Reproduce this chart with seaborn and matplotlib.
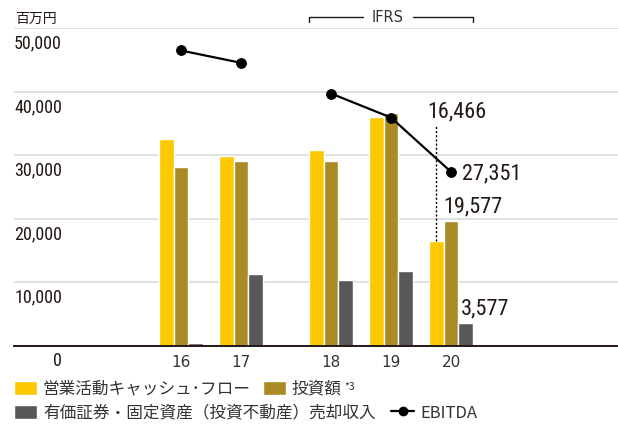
import numpy as np
import pandas as pd
import seaborn as sns
import matplotlib
matplotlib.use("Agg")
import matplotlib.pyplot as plt
import matplotlib.transforms as mtransforms
from matplotlib.patches import Patch
from matplotlib.lines import Line2D
from matplotlib import font_manager as fm

# ---------------- data ----------------
years = ["16", "17", "18", "19", "20"]
xpos = [0.0, 1.0, 2.5, 3.5, 4.5]
op_cf = [32550, 29920, 30820, 36010, 16466]      # 営業活動キャッシュ・フロー
invest = [28140, 29090, 29090, 36600, 19577]     # 投資額
sales = [470, 11290, 10350, 11760, 3577]         # 有価証券・固定資産売却収入
ebitda = [46460, 44520, 39690, 35900, 27351]     # EBITDA
ebitda_seg = [0, 0, 1, 1, 1]
yticks = [0, 10000, 20000, 30000, 40000, 50000]
ytick_labels = ["0", "10,000", "20,000", "30,000", "40,000", "50,000"]
series_names = ["営業活動キャッシュ･フロー", "投資額", "有価証券・固定資産（投資不動産）売却収入"]
colors = ["#FCC800", "#A98A25", "#595757"]

# ---------------- fonts ----------------
sns.set_theme(style="white")
JP = "Noto Sans CJK JP"
plt.rcParams["font.family"] = [JP, "DejaVu Sans"]


def find_condensed():
    prefs = ["roboto condensed", "liberation sans narrow", "open sans condensed",
             "dejavu sans condensed", "noto sans condensed"]
    cands = []
    for f in fm.fontManager.ttflist:
        key = (f.name + " " + f.fname).lower()
        is_cond = ("condensed" in key or "narrow" in key or
                   str(f.stretch) in ("condensed", "semi-condensed", "extra-condensed"))
        if not is_cond:
            continue
        if f.style != "normal":
            continue
        fn = f.fname.lower()
        if any(b in fn for b in ["bold", "light", "thin", "black", "medium", "italic", "oblique"]):
            continue
        rank = len(prefs)
        for i, p in enumerate(prefs):
            if p in key.replace("-", " ").replace("_", " ") or p.replace(" ", "") in key:
                rank = i
                break
        cands.append((rank, f.fname))
    if cands:
        cands.sort()
        return cands[0][1]
    return None


cond_path = find_condensed()


def numfont(size):
    if cond_path:
        return fm.FontProperties(fname=cond_path, size=size)
    return fm.FontProperties(family="Roboto", size=size * 0.88)


TXT = "#231815"

# ---------------- frame ----------------
df = pd.DataFrame({
    "x": xpos * 3,
    "v": op_cf + invest + sales,
    "series": [series_names[0]] * 5 + [series_names[1]] * 5 + [series_names[2]] * 5,
})
eb = pd.DataFrame({"x": xpos, "v": ebitda, "seg": ebitda_seg})

W, H = 618, 425
fig = plt.figure(figsize=(W / 100, H / 100), dpi=100)
ax = fig.add_axes([14 / W, (H - 345.7) / H, (W - 14) / W, (345.7 - 28) / H])

sns.barplot(data=df, x="x", y="v", hue="series", hue_order=series_names,
            palette=colors, native_scale=True, width=0.735, gap=0,
            dodge=True, saturation=1, legend=False, ax=ax, zorder=2)
sns.lineplot(data=eb, x="x", y="v", units="seg", estimator=None,
             color="black", marker="o", markersize=7, markeredgecolor="black",
             linewidth=1.6, legend=False, ax=ax, zorder=4)

ax.set_xlim(-2.78, 7.28)
ax.set_ylim(0, 50000)
ax.set_xlabel("")
ax.set_ylabel("")
ax.set_yticks(yticks)
ax.set_yticklabels([])
ax.yaxis.grid(True, color="#dcdcdc", linewidth=1.2)
ax.xaxis.grid(False)
ax.set_axisbelow(True)
ax.tick_params(axis="y", length=0)
ax.set_xticks(xpos)
ax.set_xticklabels(years, fontsize=11, color="#333333", family="DejaVu Sans")
ax.tick_params(axis="x", length=0, pad=7)
for s in ["top", "left", "right"]:
    ax.spines[s].set_visible(False)
ax.spines["bottom"].set_color("#231815")
ax.spines["bottom"].set_linewidth(1.4)
ax.spines["bottom"].set_zorder(5)

# y tick labels below gridlines
blend = mtransforms.blended_transform_factory(ax.transAxes, ax.transData)
for v, lab in zip(yticks, ytick_labels):
    ax.text((62 - 14) / (W - 14), v - 1050, lab, transform=blend, ha="right",
            va="top", fontproperties=numfont(13), color=TXT, clip_on=False)

# unit label
fig.text(15 / W, 1 - 18.5 / H, "百万円", fontsize=10, color=TXT, ha="left", va="center")

# IFRS bracket
bt = mtransforms.blended_transform_factory(ax.transData, fig.transFigure)
yb = 1 - 17.3 / H
ytk = 1 - 21.5 / H
x_l = 2.5 - 0.3675
x_r = 4.5 + 0.3675
gap_l = (363 - 181) / 60
gap_r = (413 - 181) / 60
ax.plot([x_l, x_l, gap_l], [ytk, yb, yb], color="#231815", lw=1, transform=bt, clip_on=False)
ax.plot([gap_r, x_r, x_r], [yb, yb, ytk], color="#231815", lw=1, transform=bt, clip_on=False)
ax.text((gap_l + gap_r) / 2, yb, "IFRS", transform=bt, ha="center", va="center",
        fontsize=10.5, color="#333333", family="DejaVu Sans")

# annotations for FY20
w1 = 0.245
ax.plot([4.5 - w1, 4.5 - w1], [op_cf[4], 34800], color="black", lw=1,
        linestyle=(0, (1.5, 1.5)), zorder=3)
ax.text(4.10, 35900, f"{op_cf[4]:,}", fontproperties=numfont(16), color=TXT, ha="left", va="baseline")
ax.text(4.68, 26150, f"{ebitda[4]:,}", fontproperties=numfont(16), color=TXT, ha="left", va="baseline")
ax.text(4.37, 20900, f"{invest[4]:,}", fontproperties=numfont(16), color=TXT, ha="left", va="baseline")
ax.text(4.67, 4850, f"{sales[4]:,}", fontproperties=numfont(16), color=TXT, ha="left", va="baseline")

# legend
fs = 12
common = dict(ncol=2, frameon=False, fontsize=fs, handlelength=1.38, handleheight=0.9,
              handletextpad=0.36, borderaxespad=0, borderpad=0, labelcolor="#333333",
              loc="center left")
h1 = [Patch(facecolor=colors[0]), Patch(facecolor=colors[1])]
l1 = [series_names[0], "投資額"]
leg1 = fig.legend(h1, l1, bbox_to_anchor=(14 / W, 1 - 389 / H), columnspacing=0.7, **common)
h2 = [Patch(facecolor=colors[2]),
      Line2D([0], [0], color="black", lw=1.6, marker="o", markersize=6)]
l2 = [series_names[2], "EBITDA"]
leg2 = fig.legend(h2, l2, bbox_to_anchor=(14 / W, 1 - 413 / H), columnspacing=0.95, **common)
fig.canvas.draw()
bb = leg1.get_texts()[1].get_window_extent()
fig.text(bb.x1 + 3, bb.y1 - 2, "*3", transform=None, fontsize=7.5, color="#333333",
         ha="left", va="top")

fig.savefig("out.png", dpi=100)
